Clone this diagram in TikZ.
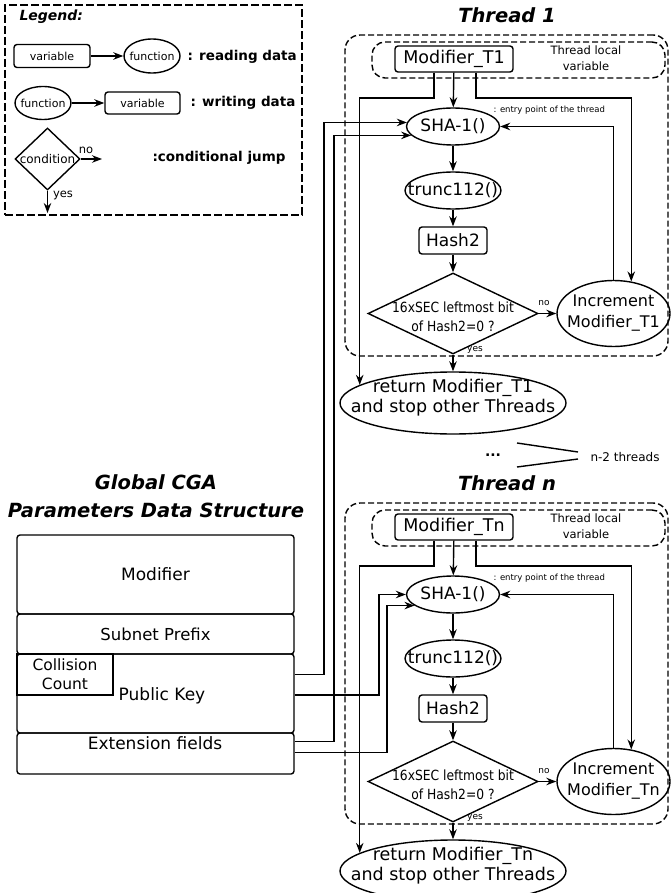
\documentclass[tikz,border=0pt]{standalone}
\usepackage{fontspec}
\setmainfont{DejaVu Sans}
\newfontfamily\condfont[FakeStretch=0.88]{DejaVu Sans}
\usetikzlibrary{arrows.meta,calc,shapes.geometric}
\tikzset{
  ln/.style={line width=1.4pt},
  arr/.style={ln,-{Stealth[length=10pt,width=7.5pt]}},
  box/.style={draw,ln,rectangle,rounded corners=3pt,inner sep=0pt},
  sqbox/.style={draw,ln,rectangle,inner sep=0pt},
  ell/.style={draw,ln,ellipse,inner sep=0pt},
  dia/.style={draw,ln,diamond,inner sep=0pt},
  dashbox/.style={draw,ln,dash pattern=on 6pt off 3pt,rounded corners=15pt,inner sep=0pt},
  fs/.style args={#1/#2}{font=\fontsize{#1}{#2}\selectfont},
  titlef/.style={font=\fontsize{19.5}{28}\selectfont\bfseries\itshape},
  legbold/.style={font=\fontsize{13.5}{16}\selectfont\bfseries},
}
\begin{document}
\begin{tikzpicture}[x=1pt,y=-1pt]
\useasboundingbox (0,0) rectangle (670,893);

% ---------- Legend ----------
\node[draw,ln,dash pattern=on 8pt off 3pt,minimum width=297pt,minimum height=210pt,inner sep=0pt] (legend) at (153.5,110) {};
\node[anchor=west,font=\fontsize{14}{16}\selectfont\bfseries\itshape] (legt) at (16,17) {Legend:};
\node[box,minimum width=76pt,minimum height=23pt,fs=11/13] (lvar1) at (52,56) {variable};
\node[ell,minimum width=56pt,minimum height=34pt,label={[fs=11/13]center:function}] (lfun1) at (152,56) {};
\draw[arr] (lvar1) -- (lfun1);
\node[anchor=west,legbold] (lread) at (184,57) {: reading data};
\node[ell,minimum width=56pt,minimum height=33pt,label={[fs=11/13]center:function}] (lfun2) at (43,103) {};
\node[box,minimum width=75pt,minimum height=22pt,fs=11/13] (lvar2) at (142.5,103) {variable};
\draw[arr] (lfun2) -- (lvar2);
\node[anchor=west,legbold] (lwrite) at (187,103) {: writing data};
\node[dia,minimum width=65pt,minimum height=62pt,label={[fs=12/14]center:condition}] (ldia) at (47.5,159) {};
\coordinate (lno) at (102,159);
\coordinate (lyes) at (47.5,213);
\draw[arr] (ldia.east) -- (lno);
\draw[arr] (ldia.south) -- (lyes);
\node[fs=11.5/13] (lnot) at (86,150) {no};
\node[fs=11.5/13] (lyest) at (63,195) {yes};
\node[anchor=west,legbold] (lcond) at (149,158) {:conditional jump};

% ---------- Global structure ----------
\node[titlef,align=center] (gtitle) at (156,496) {Global CGA\\Parameters Data Structure};
\node[box,minimum width=277pt,minimum height=79pt,fs=17/20] (gmod) at (155.5,574.5) {Modifier};
\node[box,minimum width=277pt,minimum height=40pt,fs=16.5/20] (gsub) at (155.5,634) {Subnet Prefix};
\node[box,minimum width=277pt,minimum height=79pt] (gpk) at (155.5,693.5) {};
\node[box,minimum width=277pt,minimum height=41pt] (gext) at (155.5,753.5) {};
\node[sqbox,minimum width=96pt,minimum height=41pt,align=center,fs=15.5/19] (gcc) at (65,674.5) {Collision\\Count};
\node[fs=17/20] (gpkt) at (162,696) {Public Key};
\node[fs=17/20] (gextt) at (155,743) {Extension fields};

% ---------- Threads ----------
\foreach \i/\dy/\lab in {1/0/T1, n/468/Tn}{
\begin{scope}[shift={(0,\dy)}]
  \node[titlef] (title\i) at (507,15) {Thread \i};
  \node[dashbox,minimum width=323pt,minimum height=321pt] (thr\i) at (506.5,195.5) {};
  \node[dashbox,rounded corners=13pt,minimum width=293pt,minimum height=36pt] (loc\i) at (518.5,60) {};
  \node[box,minimum width=118pt,minimum height=26pt,fs=17.5/20] (mod\i) at (454,59) {Modifier\_\lab};
  \node[align=center,fs=11.5/16] (loct\i) at (586,58) {Thread local\\variable};
  \node[ell,minimum width=93pt,minimum height=37pt,label={[fs=17/20]center:SHA-1()}] (sha\i) at (453,126.5) {};
  \node[anchor=west,fs=8.5/10] (ent\i) at (490,110) {: entry point of the thread};
  \node[ell,minimum width=96pt,minimum height=37pt,label={[fs=17/20]center:trunc112()}] (trunc\i) at (453,190.5) {};
  \node[box,minimum width=68pt,minimum height=27pt,fs=17/20] (hash\i) at (453,240.5) {Hash2};
  \node[dia,minimum width=170pt,minimum height=81pt] (dia\i) at (453,313.5) {};
  \node[align=center,font=\condfont\fontsize{14}{19}\selectfont] (diat\i) at (453,317) {16xSEC leftmost bit\\of Hash2=0 ?};
  \node[ell,minimum width=113pt,minimum height=66pt,label={[align=center,fs=16/21]center:Increment\\Modifier\_\lab}] (inc\i) at (613.5,313.5) {};
  \node[ell,minimum width=226pt,minimum height=62pt,label={[align=center,fs=17.5/20,yshift=5pt]center:return Modifier\_\lab\\and stop other Threads}] (ret\i) at (453,403) {};
  \node[fs=9/10] (no\i) at (544,303) {no};
  \node[fs=9/10] (yes\i) at (475,350) {yes};
  \coordinate (h\i) at (0,98);
  \draw[arr] (mod\i) -- (sha\i);
  \draw[arr] (sha\i) -- (trunc\i);
  \draw[arr] (trunc\i) -- (hash\i);
  \draw[arr] (hash\i) -- (dia\i);
  \draw[arr] (dia\i) -- (inc\i);
  \draw[arr] (dia\i) -- (ret\i);
  \draw[arr] ($(mod\i.south)+(-20,0)$) |- (ret\i.169 |- h\i) -- (ret\i.169);
  \draw[arr] ($(mod\i.south)+(22,0)$) |- (inc\i.61 |- h\i) -- (inc\i.61);
  \draw[arr] (inc\i.north) |- (sha\i.east);
\end{scope}
}

% ---------- n-2 threads ----------
\node[font=\fontsize{14}{16}\selectfont\bfseries] (dots) at (493,455) {...};
\node[anchor=west,fs=12/14] (n2) at (587,457) {n-2 threads};
\coordinate (b1) at (517,443);
\coordinate (b2) at (578,452);
\coordinate (b3) at (517,467);
\coordinate (b4) at (578,459);
\draw[ln] (b1) -- (b2);
\draw[ln] (b3) -- (b4);

% ---------- Global -> threads ----------
\coordinate (vA) at (324,0);
\coordinate (vB) at (334,0);
\coordinate (vC) at (379,0);
\coordinate (vD) at (387,0);
\coordinate (p1) at ($(gpk.north east)+(0,21)$);
\coordinate (p2) at ($(gext.north east)+(0,9)$);
\coordinate (p3) at ($(gpk.east)+(0,1.5)$);
\coordinate (p4) at ($(gext.north east)+(0,20)$);
\draw[arr] (p1) -- (p1 -| vA) |- (sha1.175);
\draw[arr] (p2) -- (p2 -| vB) |- (sha1.192);
\draw[arr] (p3) -- (p3 -| vC) |- (shan.180);
\draw[arr] (p4) -- (p4 -| vD) |- (shan.196);
\end{tikzpicture}
\end{document}
